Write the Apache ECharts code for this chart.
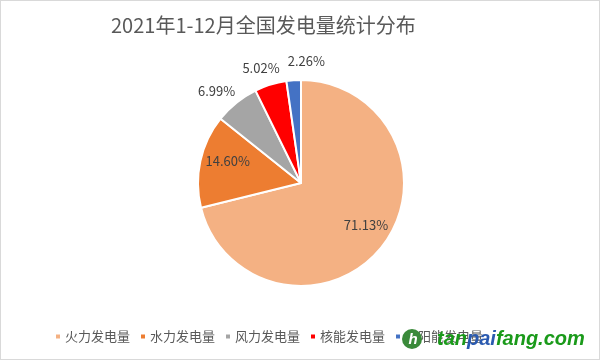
<!DOCTYPE html>
<html><head><meta charset="utf-8">
<script src="https://cdn.jsdelivr.net/npm/echarts@6/dist/echarts.min.js"></script>
<style>
html,body{margin:0;padding:0;background:#fff;}
#c{position:absolute;left:0;top:0;width:598px;height:358px;border:1px solid #d9d9d9;}
</style></head>
<body><div id="c"></div>
<script>
const titleText = '2021年1-12月全国发电量统计分布';
const categories = ['火力发电量','水力发电量','风力发电量','核能发电量','太阳能发电量'];
const shares = [71.13, 14.60, 6.99, 5.02, 2.26];
const colors = ['#F4B183','#ED7D31','#A5A5A5','#FF0000','#4472C4'];
const labelOffsets = [[22,8],[-20,-10],[10,-4],[17,-7],[37,-9]];
const labelInside = [true,true,false,false,false];

const chart = echarts.init(document.getElementById('c'), null, {renderer:'canvas'});
const font = '"Noto Sans CJK SC", "Noto Sans", sans-serif';
chart.setOption({
  animation:false,
  title:{text:titleText,left:105,top:9,
    textStyle:{fontFamily:font,fontSize:20,fontWeight:'normal',color:'#595959'}},
  legend:{bottom:11,left:48,itemWidth:6,itemHeight:6,itemGap:9,icon:'rect',
    textStyle:{fontFamily:font,fontSize:13,color:'#595959',padding:[0,0,0,-1]},
    data:categories},
  graphic:[
    {type:'circle',shape:{cx:411,cy:338,r:10},style:{fill:'#3a8a3a'},z:100},
    {type:'text',style:{x:412,y:339,text:'h',fill:'#ffffff',font:'italic bold 15px "Liberation Sans", sans-serif',verticalAlign:'middle',align:'center'},z:101},
    {type:'text',style:{x:436,y:338,text:'{g|tan}{b|pai}{g|fang.com}',verticalAlign:'middle',
      rich:{g:{fill:'#1a9a1a',fontFamily:'"Liberation Sans", sans-serif',fontStyle:'italic',fontWeight:'bold',fontSize:20},
            b:{fill:'#2a5ab0',fontFamily:'"Liberation Sans", sans-serif',fontStyle:'italic',fontWeight:'bold',fontSize:20}}},z:101}
  ],
  series:[{
    type:'pie',
    center:[300,182],
    radius:[0,103],
    startAngle:90,
    clockwise:true,
    avoidLabelOverlap:false,
    minShowLabelAngle:0,
    labelLayout:{hideOverlap:false},
    itemStyle:{borderColor:'#fff',borderWidth:2},
    labelLine:{show:false,length:10,length2:0},
    label:{fontFamily:font,fontSize:13,color:'#404040',formatter:(p)=>p.value.toFixed(2)+'%'},
    data:categories.map((n,i)=>({
      name:n,value:shares[i],
      itemStyle:{color:colors[i]},
      label:{position:labelInside[i]?'inside':'outside',offset:labelOffsets[i]}
    }))
  }]
});
</script></body></html>
